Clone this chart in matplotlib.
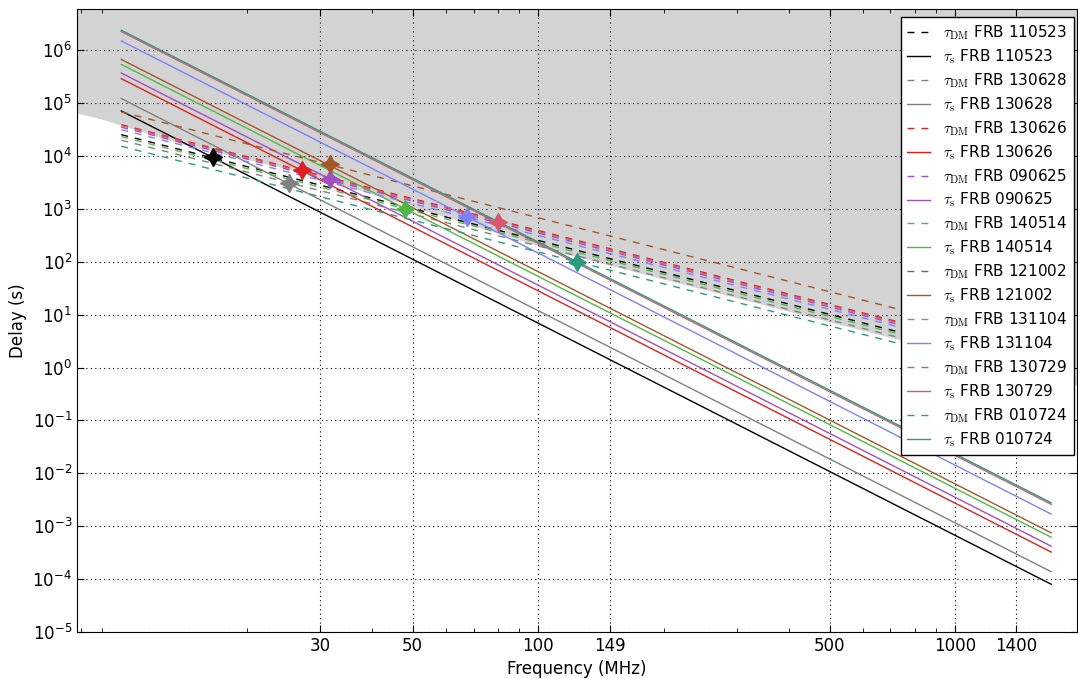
import numpy as np
import matplotlib
matplotlib.use('Agg')
import matplotlib.pyplot as plt
from matplotlib.ticker import FixedLocator, NullLocator, NullFormatter, FuncFormatter
from matplotlib.font_manager import FontProperties

# FRB names, line colours
frbs = ['110523', '130628', '130626', '090625', '140514', '121002', '131104', '130729', '010724']
colors = ['#000000', '#808080', '#e02020', '#a050c0', '#50b848', '#a65628', '#8080ff', '#d85870', '#2e9a80']

# frequency range of the model lines (MHz)
nu_ends = [10, 1700]

# scattering delay tau_s at 10 and 1700 MHz (s)
tau_s_lo = [7.1e4, 1.22e5, 2.9e5, 3.7e5, 5.4e5, 6.7e5, 1.5e6, 2.25e6, 2.39e6]
tau_s_hi = [8.0e-5, 1.38e-4, 3.25e-4, 4.2e-4, 6.2e-4, 7.5e-4, 1.7e-3, 2.6e-3, 2.78e-3]

# dispersion delay tau_DM at 10 and 1700 MHz (s)
tau_dm_lo = [2.53e4, 1.99e4, 3.9e4, 3.5e4, 2.32e4, 6.8e4, 3.14e4, 3.74e4, 1.53e4]
tau_dm_hi = [0.875, 0.689, 1.35, 1.21, 0.80, 2.35, 1.09, 1.29, 0.53]

# crossing points tau_s = tau_DM (MHz, s)
cross_nu = [16.6, 25.3, 27.2, 31.7, 48.0, 31.6, 67.6, 80.0, 124.0]
cross_tau = [9.4e3, 3.1e3, 5.4e3, 3.64e3, 975, 7.0e3, 706, 568, 97]

# lower edge of the shaded region
shade_nu = [7.83, 8.9, 13.8, 26.9, 113, 710, 1960]
shade_tau = [6.5e4, 5.1e4, 1.72e4, 5.0e3, 150, 3.6, 0.47]

xticks = [30, 50, 100, 149, 500, 1000, 1400]
ydecades = list(range(-5, 7))

plt.rcParams['font.size'] = 12

fig = plt.figure(figsize=(10.78, 6.79), dpi=100)
ax = fig.add_axes([0.0714, 0.0692, 0.9276, 0.9175])
ax.set_xscale('log')
ax.set_yscale('log')

ax.fill_between(shade_nu, shade_tau, 1e8, color='#d3d3d3', lw=0, zorder=1)

for i, name in enumerate(frbs):
    ax.plot(nu_ends, [tau_dm_lo[i], tau_dm_hi[i]], color=colors[i], lw=1.0,
            ls=(0, (5, 5)), label=r'$\tau_{\rm DM}$ FRB ' + name, zorder=3)
    ax.plot(nu_ends, [tau_s_lo[i], tau_s_hi[i]], color=colors[i], lw=1.0,
            label=r'$\tau_{\rm s}$ FRB ' + name, zorder=3)

for i in range(len(frbs)):
    ax.plot(cross_nu[i], cross_tau[i], marker=(4, 1, 0), ms=13, color=colors[i],
            mec=colors[i], ls='none', zorder=4)

ax.set_xlim(7.83, 1960)
ax.set_ylim(1e-5, 6e6)

ax.set_xticks(xticks)
ax.set_xticklabels([str(t) for t in xticks])
ax.xaxis.set_minor_formatter(NullFormatter())
ax.yaxis.set_major_locator(FixedLocator([10.0 ** d for d in ydecades]))
ax.yaxis.set_minor_locator(NullLocator())
ax.yaxis.set_major_formatter(FuncFormatter(lambda v, p: r'$\mathregular{10^{%d}}$' % round(np.log10(v))))

ax.tick_params(which='both', direction='in', top=True, right=True)
ax.tick_params(which='major', length=5)
ax.tick_params(which='minor', length=3)
ax.set_axisbelow('line')
ax.grid(True, which='major', ls=(0, (1, 3)), color='k', lw=0.8)

ax.set_xlabel('Frequency (MHz)')
ax.set_ylabel('Delay (s)')

leg = ax.legend(loc='upper right', bbox_to_anchor=(0.997, 0.987), borderaxespad=0,
                prop=FontProperties(size=11, math_fontfamily='cm'),
                fancybox=False, framealpha=1, edgecolor='k', labelspacing=0.35,
                handlelength=1.5, handletextpad=0.9)
leg.get_frame().set_linewidth(1.0)
leg.set_zorder(10)

fig.savefig('out.png', dpi=100)
